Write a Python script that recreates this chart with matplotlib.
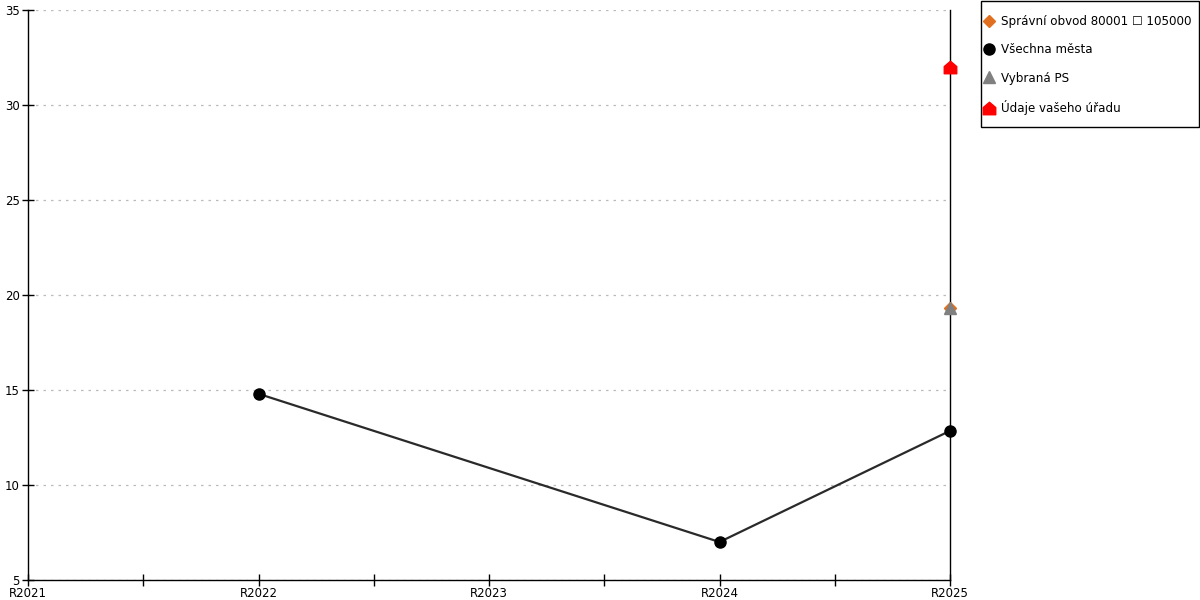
import matplotlib
matplotlib.use("Agg")
import matplotlib.pyplot as plt
from matplotlib.path import Path
from matplotlib.lines import Line2D
from matplotlib.patches import Rectangle
from matplotlib.ticker import MultipleLocator

categories = ["R2021", "R2022", "R2023", "R2024", "R2025"]
mesta_x = ["R2022", "R2024", "R2025"]
mesta_y = [14.8, 7.0, 12.85]
obvod_x = ["R2025"]
obvod_y = [19.3]
ps_x = ["R2025"]
ps_y = [19.3]
urad_x = ["R2025"]
urad_y = [32.0]

labels = ["Správní obvod 80001 \u2610 105000", "Všechna města", "Vybraná PS", "Údaje vašeho úřadu"]

house = Path([(-1, -1), (1, -1), (1, 0.15), (0, 1), (-1, 0.15), (-1, -1)],
             [Path.MOVETO, Path.LINETO, Path.LINETO, Path.LINETO, Path.LINETO, Path.CLOSEPOLY])

pos = {c: i for i, c in enumerate(categories)}

fig = plt.figure(figsize=(12, 6), dpi=100)
ax = fig.add_axes([28/1200, 20/600, 922/1200, 570/600])

ax.plot([pos[c] for c in mesta_x], mesta_y, color="#2a2a2a", lw=1.6, zorder=3, clip_on=False)
ax.plot([pos[c] for c in mesta_x], mesta_y, ls="none", marker="o", ms=8, color="black", zorder=4, clip_on=False)
ax.plot([pos[c] for c in obvod_x], obvod_y, ls="none", marker="D", ms=6, color="#e07020", zorder=4, clip_on=False)
ax.plot([pos[c] for c in ps_x], ps_y, ls="none", marker="^", ms=8.5, color="#808080", zorder=5, clip_on=False)
ax.plot([pos[c] for c in urad_x], urad_y, ls="none", marker=house, ms=9, color="red", zorder=5, clip_on=False)

ax.set_xlim(0, len(categories) - 1)
ax.set_ylim(5, 35)
ax.set_xticks(range(len(categories)))
ax.set_xticklabels(categories)
ax.xaxis.set_minor_locator(MultipleLocator(0.5))
ax.yaxis.set_major_locator(MultipleLocator(5))
ax.tick_params(axis="both", which="both", direction="inout", length=8, width=1, labelsize=8.5, color="black", pad=1)
ax.tick_params(axis="y", pad=2)
ax.grid(axis="y", color="#bbbbbb", ls=(0, (2, 4)), lw=0.9)
ax.set_axisbelow(True)
ax.spines["top"].set_visible(False)
for s in ["left", "bottom", "right"]:
    ax.spines[s].set_color("black")
    ax.spines[s].set_linewidth(1)

handles = [
    Line2D([], [], ls="none", marker="D", ms=6, color="#e07020"),
    Line2D([], [], ls="none", marker="o", ms=8, color="black"),
    Line2D([], [], ls="none", marker="^", ms=8.5, color="#808080"),
    Line2D([], [], ls="none", marker=house, ms=9, color="red"),
]
leg = fig.legend(handles, labels, loc="upper left", bbox_to_anchor=(985/1200, 1 - 15/600),
                 frameon=False, fontsize=8.6,
                 handlelength=0.7, handletextpad=0.6, labelspacing=1.28, borderpad=0,
                 borderaxespad=0)

fig.add_artist(Rectangle((980.5/1200, 1 - 127/600), 218/1200, 126.5/600,
                         transform=fig.transFigure, fill=False, ec="black", lw=1))

fig.savefig("out.png", dpi=100)
